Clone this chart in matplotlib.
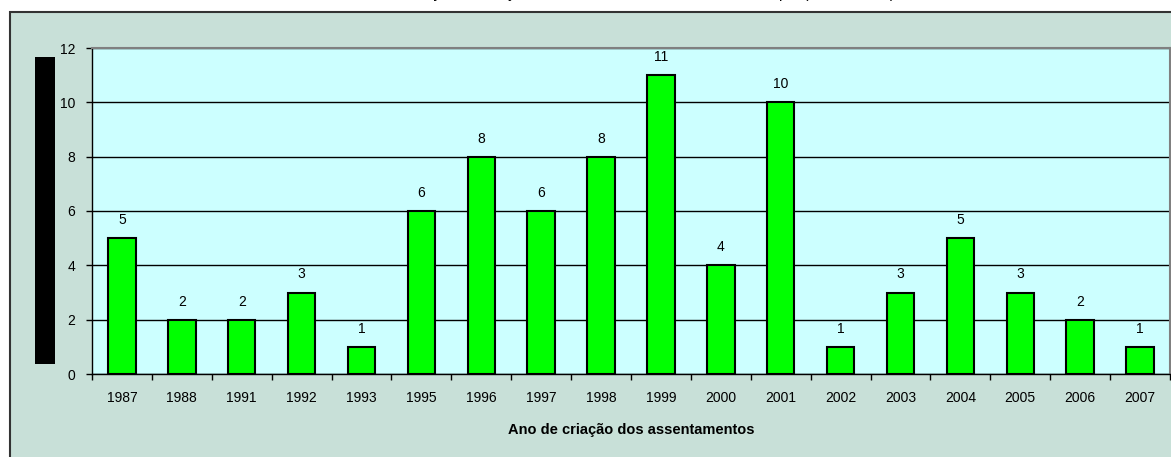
import matplotlib
matplotlib.use("Agg")
import matplotlib.pyplot as plt
from matplotlib.patches import Rectangle
import numpy as np

years = ["1987", "1988", "1991", "1992", "1993", "1995", "1996", "1997", "1998",
         "1999", "2000", "2001", "2002", "2003", "2004", "2005", "2006", "2007"]
counts = [5, 2, 2, 3, 1, 6, 8, 6, 8, 11, 4, 10, 1, 3, 5, 3, 2, 1]
yticks = [0, 2, 4, 6, 8, 10, 12]
title = "Evolução da criação dos assentamentos rurais no município (1987 - 2007)"
xlabel = "Ano de criação dos assentamentos"

plt.rcParams['font.family'] = ['Liberation Sans', 'DejaVu Sans']

W, H = 1171, 457
fig = plt.figure(figsize=(W / 100, H / 100), dpi=100)
fig.patch.set_facecolor("white")

# outer chart frame
frame = Rectangle((10 / W, -0.05), 1.2, 1 - 12 / H + 0.05, transform=fig.transFigure,
                  facecolor="#C8E0D8", edgecolor="#333333", linewidth=1.5, zorder=0)
fig.patches.append(frame)

# black block where y label would be
blk = Rectangle((35 / W, (H - 364) / H), 20 / W, 307 / H, transform=fig.transFigure,
                facecolor="black", edgecolor="none", zorder=1)
fig.patches.append(blk)

# cut-off title (only descenders visible)
fig.text(0.55, 1 + 1.8 / H, title, ha="center", va="baseline", fontsize=11,
         color="black")

ax = fig.add_axes([92 / W, (H - 374) / H, 1078 / W, 326 / H])
ax.set_zorder(5)
ax.set_facecolor("#CCFFFF")
x = np.arange(len(years))
ax.bar(x, counts, width=0.46, color="#00FF00", edgecolor="black", linewidth=1.5, zorder=3)
for xi, v in zip(x, counts):
    ax.annotate(str(v), (xi, v), xytext=(0, 13), textcoords="offset points",
                ha="center", va="center", fontsize=10)

ax.set_xlim(-0.5, len(years) - 0.5)
ax.set_ylim(0, 12)
ax.set_yticks(yticks)
ax.set_yticklabels([str(t) for t in yticks], fontsize=10)
ax.yaxis.grid(True, color="black", linewidth=1)
ax.set_axisbelow(True)
ax.tick_params(axis="y", direction="out", length=4, width=1, pad=8)

ax.set_xticks(x)
ax.set_xticklabels(years, fontsize=10)
ax.set_xticks(np.arange(-0.5, len(years)), minor=True)
ax.tick_params(axis="x", which="major", length=0, pad=12)
ax.tick_params(axis="x", which="minor", direction="out", length=4, width=1)

for s in ["left", "bottom"]:
    ax.spines[s].set_color("black")
    ax.spines[s].set_linewidth(1)
for s in ["top", "right"]:
    ax.spines[s].set_color("#808080")
    ax.spines[s].set_linewidth(1.5)

ax.set_xlabel(xlabel, fontsize=10.5, fontweight="bold", labelpad=13)

fig.savefig("out.png", dpi=100, facecolor=fig.get_facecolor())
